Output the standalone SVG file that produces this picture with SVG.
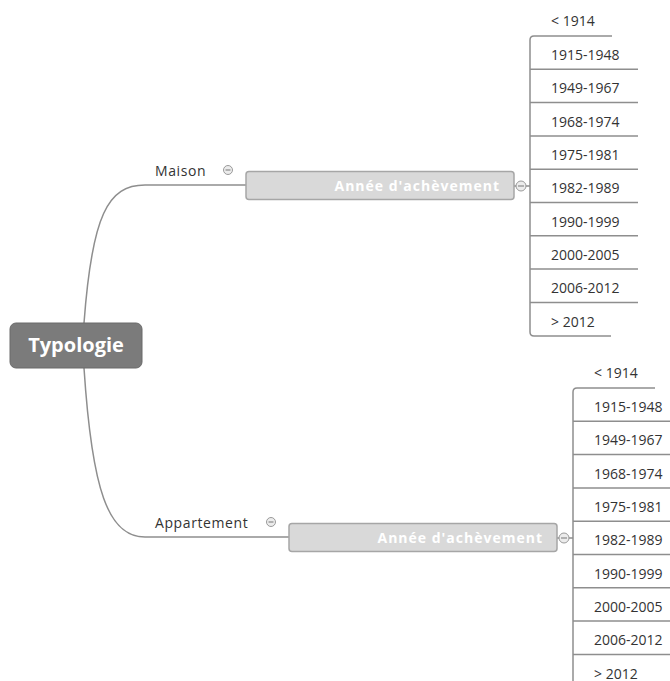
<svg xmlns="http://www.w3.org/2000/svg" width="670" height="681" viewBox="0 0 670 681">
<style>
.ln{fill:none;stroke:#8e8e8e;stroke-width:1.5}
.t{font-family:"Open Sans","Liberation Sans",sans-serif;font-size:14px;fill:#333}
.lb{letter-spacing:0.6px}
.bx{fill:#d9d9d9;stroke:#a6a6a6;stroke-width:1.5}
.bt{font-family:"Open Sans","Liberation Sans",sans-serif;font-size:14px;font-weight:bold;fill:#ffffff;text-anchor:end;letter-spacing:1px}
.cc{fill:#ececec;stroke:#9a9a9a;stroke-width:1}
.cm{stroke:#777;stroke-width:1}
</style>
<rect width="670" height="681" fill="#ffffff"/>
<g id="connectors">
<path class="ln" d="M84,323 C92,215 108,185 145,185 H246"/>
<path class="ln" d="M84,368 C92,490 108,537 145,537 H289"/>
<path class="ln" d="M514,186 H530"/>
<path class="ln" d="M557,538 H573"/>
<path class="ln" d="M612,36 H534 Q530,36 530,40 V332 Q530,336 534,336 H611"/>
<path class="ln" d="M530,69.3 H638 M530,102.6 H638 M530,135.9 H638 M530,169.2 H638 M530,202.5 H638 M530,235.8 H638 M530,269.1 H638 M530,302.4 H638"/>
<path class="ln" d="M655,388 H577 Q573,388 573,392 V684 M573,421.3 H681 M573,454.6 H681 M573,487.9 H681 M573,521.2 H681 M573,554.5 H681 M573,587.8 H681 M573,621.1 H681 M573,654.4 H681"/>
</g>
<g id="root">
<rect x="10" y="323" width="132" height="45" rx="6" fill="#7b7b7b" stroke="#6a6a6a" stroke-width="1"/>
<text x="76" y="352" text-anchor="middle" font-family="'Open Sans','Liberation Sans',sans-serif" font-size="20" font-weight="bold" fill="#ffffff">Typologie</text>
</g>
<g id="maison">
<text class="t lb" x="155" y="176">Maison</text>
<circle class="cc" cx="228" cy="170" r="4.5"/><path class="cm" d="M225.5,170 H230.5"/>
</g>
<g id="maison-annee">
<rect class="bx" x="246" y="171.5" width="268" height="28" rx="3"/>
<text class="bt" x="500" y="191">Année d'achèvement</text>
<circle class="cc" cx="521" cy="186" r="5"/><path class="cm" d="M518,186 H524"/>
</g>
<g id="maison-items">
<text class="t" x="551" y="26">&lt; 1914</text>
<text class="t" x="551" y="60">1915-1948</text>
<text class="t" x="551" y="93">1949-1967</text>
<text class="t" x="551" y="126.5">1968-1974</text>
<text class="t" x="551" y="160">1975-1981</text>
<text class="t" x="551" y="193">1982-1989</text>
<text class="t" x="551" y="226.5">1990-1999</text>
<text class="t" x="551" y="260">2000-2005</text>
<text class="t" x="551" y="293">2006-2012</text>
<text class="t" x="551" y="326.5">&gt; 2012</text>
</g>
<g id="appartement">
<text class="t lb" x="155" y="528">Appartement</text>
<circle class="cc" cx="271" cy="522" r="4.5"/><path class="cm" d="M268.5,522 H273.5"/>
</g>
<g id="appartement-annee">
<rect class="bx" x="289" y="523.5" width="268" height="28" rx="3"/>
<text class="bt" x="543" y="543">Année d'achèvement</text>
<circle class="cc" cx="564" cy="538" r="5"/><path class="cm" d="M561,538 H567"/>
</g>
<g id="appartement-items">
<text class="t" x="594" y="378">&lt; 1914</text>
<text class="t" x="594" y="412">1915-1948</text>
<text class="t" x="594" y="445">1949-1967</text>
<text class="t" x="594" y="478.5">1968-1974</text>
<text class="t" x="594" y="512">1975-1981</text>
<text class="t" x="594" y="545">1982-1989</text>
<text class="t" x="594" y="578.5">1990-1999</text>
<text class="t" x="594" y="612">2000-2005</text>
<text class="t" x="594" y="645">2006-2012</text>
<text class="t" x="594" y="678.5">&gt; 2012</text>
</g>
</svg>
